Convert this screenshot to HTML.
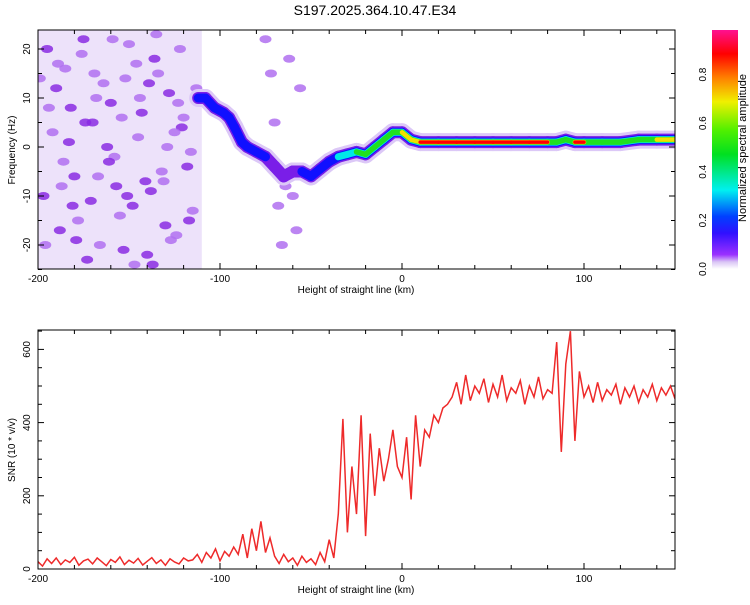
<!DOCTYPE html>
<html><head><meta charset="utf-8">
<style>
body{margin:0;background:#fff;}
svg text{font-family:"Liberation Sans",sans-serif;}
</style></head>
<body>
<svg id="c" width="750" height="600" viewBox="0 0 750 600" xmlns="http://www.w3.org/2000/svg">
<defs>
<linearGradient id="cb" x1="0" y1="1" x2="0" y2="0">
<stop offset="0" stop-color="#ffffff"/>
<stop offset="0.03" stop-color="#d9c4f5"/>
<stop offset="0.06" stop-color="#9b30ff"/>
<stop offset="0.15" stop-color="#3010ff"/>
<stop offset="0.22" stop-color="#0040ff"/>
<stop offset="0.33" stop-color="#00f0f0"/>
<stop offset="0.48" stop-color="#00e020"/>
<stop offset="0.58" stop-color="#50f000"/>
<stop offset="0.7" stop-color="#f0f000"/>
<stop offset="0.8" stop-color="#ff8000"/>
<stop offset="0.9" stop-color="#ff0000"/>
<stop offset="1" stop-color="#ff1090"/>
</linearGradient>
<clipPath id="clip1"><rect x="38" y="30" width="637" height="239"/></clipPath>
<clipPath id="clip2"><rect x="38" y="330" width="637" height="239"/></clipPath>
</defs>
<text x="375" y="15" text-anchor="middle" font-size="14">S197.2025.364.10.47.E34</text>
<g id="p1" clip-path="url(#clip1)"></g>
<g id="p2" clip-path="url(#clip2)"></g>
<g id="axes"></g>
<rect x="712" y="30" width="26" height="239" fill="url(#cb)"/>
<text transform="translate(746,148) rotate(-90)" text-anchor="middle" font-size="11">Normalized spectral amplitude</text>
</svg>
<script>
// ---------- data ----------
const snrStart = -200, snrStep = 2.5;
const snrValues = [20,8,28,15,30,12,25,18,32,10,22,27,14,30,20,9,26,18,33,12,24,16,29,11,21,31,15,25,10,28,19,14,30,22,
25,40,18,45,30,55,22,48,35,60,
40,95,30,110,50,130,45,85,
35,15,40,20,30,10,35,18,28,12,45,20,
80,30,150,
410,100,280,150,420,90,370,200,330,240,
300,380,280,250,360,190,420,280,380,360,420,400,440,450,
470,510,450,530,460,500,480,520,455,505,470,530,460,495,480,515,450,500,470,525,465,490,480,
620,320,560,650,350,540,
470,500,455,510,460,490,475,505,450,495,470,500,455,490,470,505,460,495,475,500,465];
const ridgeHeight = [-112,-108,-103,-98,-95,-92,-88,-85,-80,-75,-70,-65,-60,-55,-50,-45,-40,-35,-30,-25,-20,-15,-10,-5,0,5,10,20,30,40,50,60,70,80,85,90,95,100,110,120,130,140,150];
const ridgeFreq = [10,10,8,7,6,4,1,0,-1,-2,-4,-6,-5,-5,-6,-4.5,-3,-2,-1.5,-1,-1.5,0,1.5,3,3,1.5,1,1,1,1,1,1,1,1,1,1.5,1,1,1,1,1.5,1.5,1.5];
const ridgeAmp = [0.3,0.35,0.3,0.35,0.3,0.3,0.25,0.3,0.25,0.3,0.2,0.3,0.2,0.25,0.3,0.35,0.3,0.35,0.4,0.45,0.7,0.5,0.5,0.45,0.7,0.75,0.9,0.9,0.9,0.9,0.9,0.9,0.9,0.9,0.6,0.5,0.85,0.85,0.6,0.55,0.6,0.65,0.7];
const blobH = [-195,-190,-186,-182,-178,-175,-170,-166,-160,-157,-152,-148,-145,-140,-136,-132,-128,-124,-120,-116,
-197,-192,-185,-180,-173,-168,-162,-155,-150,-143,-138,-134,-127,-121,-115,
-194,-188,-183,-176,-171,-164,-158,-153,-146,-141,-135,-130,-125,-118,-113,
-196,-189,-181,-174,-167,-159,-151,-144,-137,-129,-122,-117,
-199,-187,-179,-169,-161,-154,-147,-139,-131,-123,
-75,-72,-68,-66,-62,-60,-58,-70,-64,-56];
const blobF = [20,12,-3,8,-15,22,5,-20,9,-8,14,-12,2,-22,18,-5,11,-18,6,-1,
-10,3,16,-6,-23,10,0,-14,21,7,-9,15,-19,4,-13,
8,-17,1,19,-11,13,-2,-21,17,-7,23,-16,3,-4,12,
-20,17,-12,5,-6,22,-10,10,-24,0,20,-15,
14,-8,-19,15,-3,6,-24,13,-7,9,
22,15,-12,-20,18,-10,-17,5,-8,12];
const blobAmp = [0.12,0.1,0.08,0.12,0.06,0.1,0.12,0.08,0.15,0.1,0.08,0.12,0.06,0.1,0.12,0.08,0.1,0.06,0.08,0.06,
0.1,0.08,0.06,0.1,0.12,0.08,0.1,0.06,0.08,0.12,0.1,0.06,0.08,0.1,0.06,
0.06,0.1,0.12,0.08,0.1,0.06,0.08,0.12,0.06,0.1,0.08,0.12,0.06,0.1,0.08,
0.08,0.06,0.1,0.12,0.08,0.06,0.1,0.08,0.12,0.06,0.08,0.1,
0.06,0.08,0.12,0.06,0.1,0.08,0.06,0.1,0.08,0.06,
0.05,0.05,0.06,0.05,0.05,0.06,0.08,0.05,0.05,0.05];
const xTicks = [-200,-100,0,100];
const fTicks = [-20,-10,0,10,20];
const snrTicks = [0,200,400,600];
const cbTicks = [0.0,0.2,0.4,0.6,0.8];

// ---------- scales ----------
const X0=38, X1=675, XMIN=-200, XMAX=150;
const sx = v => X0 + (v-XMIN)/(XMAX-XMIN)*(X1-X0);
const fy = f => 147 - f*4.9;
const sy = s => 569 - s*0.366;
const cbY = a => 269 - a*243;
const NS="http://www.w3.org/2000/svg";
function mk(tag, attrs, parent){const e=document.createElementNS(NS,tag);for(const k in attrs)e.setAttribute(k,attrs[k]);parent.appendChild(e);return e;}
function cmap(a){
  const s=[[0,'#e8dcfa'],[0.05,'#b070f0'],[0.1,'#8a2be2'],[0.2,'#1010ff'],[0.33,'#00f0f0'],[0.48,'#00e020'],[0.7,'#f0f000'],[0.8,'#ff8000'],[0.9,'#ff0000'],[1,'#ff1090']];
  let c=s[0][1];for(const p of s){if(a>=p[0])c=p[1];}return c;}

// ---------- spectrogram ----------
const p1=document.getElementById('p1');
const bgRect=mk('rect',{x:sx(-200),y:30,width:sx(-110)-sx(-200),height:239,fill:'#ede2fa'},p1);


for(let i=0;i<blobH.length;i++){
  const b=mk('ellipse',{cx:sx(blobH[i]),cy:fy(blobF[i]),rx:6,ry:4,fill:cmap(blobAmp[i]),opacity:0.85},p1);
  
  
}
const layers=[[0,18,'#dcc8f7'],[0.2,12,'#7a1ee8'],[0.25,9,'#1010ff'],[0.35,7,'#00e8e8'],[0.45,5.5,'#20e020'],[0.65,4.5,'#f0e000'],[0.8,3.5,'#ff0000']];
for(const L of layers){
  for(let i=0;i<ridgeHeight.length-1;i++){
    const a=Math.min(ridgeAmp[i],ridgeAmp[i+1]);
    if(a<L[0])continue;
    const ln=mk('line',{x1:sx(ridgeHeight[i]),y1:fy(ridgeFreq[i]),x2:sx(ridgeHeight[i+1]),y2:fy(ridgeFreq[i+1]),stroke:L[2],'stroke-width':L[1],'stroke-linecap':'round'},p1);
    
    
  }
}

// ---------- SNR ----------
const p2=document.getElementById('p2');
let d='';
snrValues.forEach((v,i)=>{d+=(i?'L':'M')+sx(snrStart+i*snrStep).toFixed(1)+','+sy(v).toFixed(1);});
const path=mk('path',{d:d,fill:'none',stroke:'#ee2a2a','stroke-width':1.5},p2);



// ---------- axes ----------
const ax=document.getElementById('axes');
function frame(y0,y1,name){
  const r=mk('rect',{x:X0,y:y0,width:X1-X0,height:y1-y0,fill:'none',stroke:'#000','stroke-width':1},ax);
  
  
  for(let v=-200;v<=150;v+=20){
    const big=v%100===0;
    mk('line',{x1:sx(v),y1:y1,x2:sx(v),y2:y1-(big?6:4),stroke:'#000'},ax);
    mk('line',{x1:sx(v),y1:y0,x2:sx(v),y2:y0+(big?6:4),stroke:'#000'},ax);
  }
}
frame(30,269,'spectrogram-frame');
frame(330,569,'snr-frame');
xTicks.forEach(v=>{
  [282,582].forEach(y=>{
    const t=mk('text',{x:sx(v),y:y,'text-anchor':'middle','font-size':10},ax);t.textContent=v;
    
    
  });
});
for(let f=-25;f<=24;f+=5){mk('line',{x1:X0,y1:fy(f),x2:X0+(f%10===0?6:4),y2:fy(f),stroke:'#000'},ax);mk('line',{x1:X1,y1:fy(f),x2:X1-(f%10===0?6:4),y2:fy(f),stroke:'#000'},ax);}
fTicks.forEach(f=>{
  const t=mk('text',{transform:`translate(30,${fy(f)}) rotate(-90)`,'text-anchor':'middle','font-size':10},ax);t.textContent=f;
  
  
});
for(let s=0;s<=650;s+=50){mk('line',{x1:X0,y1:sy(s),x2:X0+(s%200===0?6:4),y2:sy(s),stroke:'#000'},ax);mk('line',{x1:X1,y1:sy(s),x2:X1-(s%200===0?6:4),y2:sy(s),stroke:'#000'},ax);}
snrTicks.forEach(s=>{
  const t=mk('text',{transform:`translate(30,${sy(s)}) rotate(-90)`,'text-anchor':'middle','font-size':10},ax);t.textContent=s;
  
  
});
cbTicks.forEach(a=>{
  const t=mk('text',{transform:`translate(706,${cbY(a)}) rotate(-90)`,'text-anchor':'middle','font-size':10},ax);t.textContent=a.toFixed(1);
  
  
});
[[293,'x-axis-title-top'],[593,'x-axis-title-bottom']].forEach(([y,n])=>{
  const t=mk('text',{x:356,y:y,'text-anchor':'middle','font-size':10},ax);t.textContent='Height of straight line (km)';
  
  
});
const yt1=mk('text',{transform:'translate(15,150) rotate(-90)','text-anchor':'middle','font-size':10},ax);yt1.textContent='Frequency (Hz)';


const yt2=mk('text',{transform:'translate(15,450) rotate(-90)','text-anchor':'middle','font-size':10},ax);yt2.textContent='SNR (10 * v/v)';


</script>
</body></html>
